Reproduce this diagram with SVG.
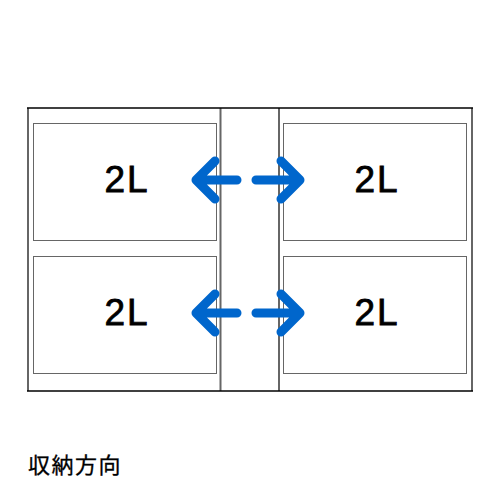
<svg xmlns="http://www.w3.org/2000/svg" width="500" height="500" viewBox="0 0 500 500">
<style>
.frame{stroke:#666;stroke-width:2;fill:none}
.edge{stroke:#000;stroke-width:1.5;fill:none}
.photo{stroke:#666;stroke-width:1;fill:#fff}
.lbl{font-family:"Liberation Sans",Arial,sans-serif;font-size:37px;fill:#000;stroke:#000;stroke-width:0.8;text-anchor:middle;letter-spacing:2px}
.arr{stroke:#0066cc;stroke-width:9;stroke-linecap:round;stroke-linejoin:round;fill:none}
.cap{font-family:"Noto Sans CJK JP","Noto Sans CJK SC",sans-serif;font-size:22px;fill:#000;stroke:#000;stroke-width:0.3;letter-spacing:1.5px}
</style>
<rect x="0" y="0" width="500" height="500" fill="#fff"/>
<g id="album">
<line class="frame" x1="28" y1="108" x2="28" y2="391"/>
<line class="frame" x1="220.5" y1="108" x2="220.5" y2="391"/>
<line class="frame" x1="279" y1="108" x2="279" y2="391"/>
<line class="frame" x1="472" y1="108" x2="472" y2="391"/>
<line class="edge" x1="27" y1="108" x2="473" y2="108"/>
<line class="edge" x1="27" y1="391" x2="473" y2="391"/>
</g>
<g id="photo-tl"><rect class="photo" x="33.5" y="123.5" width="183" height="117"/><text class="lbl" x="127" y="192">2L</text></g>
<g id="photo-tr"><rect class="photo" x="283.5" y="123.5" width="183" height="117"/><text class="lbl" x="377" y="192">2L</text></g>
<g id="photo-bl"><rect class="photo" x="33.5" y="256.5" width="183" height="117"/><text class="lbl" x="127" y="325">2L</text></g>
<g id="photo-br"><rect class="photo" x="283.5" y="256.5" width="183" height="117"/><text class="lbl" x="377" y="325">2L</text></g>
<g id="connectors">
<path class="arr" d="M215,161 L196,180 L215,199 M196,180 L237,180"/>
<path class="arr" d="M281,161 L300,180 L281,199 M300,180 L256,180"/>
<path class="arr" d="M215,294 L196,313 L215,332 M196,313 L237,313"/>
<path class="arr" d="M281,294 L300,313 L281,332 M300,313 L256,313"/>
</g>
<text class="cap" x="28" y="473">収納方向</text>
</svg>
